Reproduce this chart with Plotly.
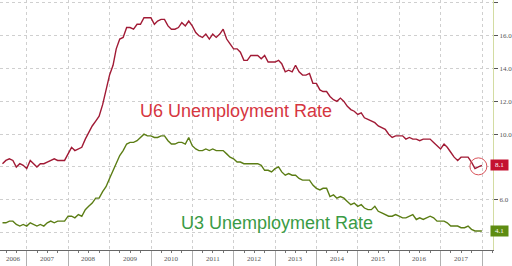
import pandas as pd
import plotly.graph_objects as go

# Monthly data, May 2006 .. Dec 2017 (month-end)
first_month = "2006-05-01"

u6_values = [
    8.2, 8.4, 8.5, 8.4, 8.0, 8.2, 8.1, 7.9,                        # 2006 May-Dec
    8.4, 8.2, 8.0, 8.2, 8.2, 8.3, 8.4, 8.5, 8.4, 8.4, 8.4, 8.8,    # 2007
    9.2, 9.0, 9.1, 9.2, 9.7, 10.1, 10.5, 10.8, 11.1, 11.8, 12.6, 13.6,  # 2008
    14.2, 15.2, 15.8, 15.9, 16.5, 16.5, 16.4, 16.7, 16.7, 17.1, 17.1, 17.1,  # 2009
    16.7, 16.9, 17.0, 17.0, 16.6, 16.4, 16.4, 16.5, 16.8, 16.6, 16.9, 16.6,  # 2010
    16.2, 16.0, 15.9, 16.1, 15.8, 16.1, 15.9, 16.1, 16.4, 15.8, 15.5, 15.2,  # 2011
    15.2, 15.0, 14.5, 14.5, 14.8, 14.8, 14.8, 14.6, 14.8, 14.4, 14.4, 14.4,  # 2012
    14.5, 14.3, 13.8, 13.9, 13.8, 14.2, 13.8, 13.6, 13.6, 13.7, 13.1, 13.1,  # 2013
    12.7, 12.6, 12.6, 12.3, 12.1, 12.0, 12.2, 12.0, 11.7, 11.5, 11.4, 11.2,  # 2014
    11.3, 11.0, 10.9, 10.8, 10.7, 10.5, 10.4, 10.3, 10.0, 9.8, 9.9, 9.9,     # 2015
    9.9, 9.7, 9.8, 9.7, 9.7, 9.6, 9.7, 9.7, 9.7, 9.5, 9.3, 9.1,              # 2016
    9.4, 9.2, 8.9, 8.6, 8.4, 8.6, 8.6, 8.6, 8.3, 7.9, 8.0, 8.1,              # 2017
]

u3_values = [
    4.6, 4.6, 4.7, 4.7, 4.5, 4.4, 4.5, 4.4,                        # 2006 May-Dec
    4.6, 4.5, 4.4, 4.5, 4.4, 4.6, 4.7, 4.6, 4.7, 4.7, 4.7, 5.0,    # 2007
    5.0, 4.9, 5.1, 5.0, 5.4, 5.6, 5.8, 6.1, 6.1, 6.5, 6.8, 7.3,    # 2008
    7.8, 8.3, 8.7, 9.0, 9.4, 9.5, 9.5, 9.6, 9.8, 10.0, 9.9, 9.9,   # 2009
    9.8, 9.8, 9.9, 9.9, 9.6, 9.4, 9.4, 9.5, 9.5, 9.4, 9.8, 9.3,    # 2010
    9.1, 9.0, 9.0, 9.1, 9.0, 9.1, 9.0, 9.0, 9.0, 8.8, 8.6, 8.5,    # 2011
    8.3, 8.3, 8.2, 8.2, 8.2, 8.2, 8.2, 8.1, 7.8, 7.8, 7.7, 7.9,    # 2012
    8.0, 7.7, 7.5, 7.6, 7.5, 7.5, 7.3, 7.2, 7.2, 7.2, 6.9, 6.7,    # 2013
    6.6, 6.7, 6.7, 6.2, 6.3, 6.1, 6.2, 6.1, 5.9, 5.7, 5.8, 5.6,    # 2014
    5.7, 5.5, 5.4, 5.4, 5.6, 5.3, 5.2, 5.1, 5.0, 5.0, 5.1, 5.0,    # 2015
    4.9, 4.9, 5.0, 5.1, 4.8, 4.9, 4.8, 4.9, 5.0, 4.9, 4.7, 4.7,    # 2016
    4.7, 4.6, 4.4, 4.4, 4.4, 4.3, 4.3, 4.4, 4.2, 4.1, 4.1, 4.1,    # 2017
]

y_ticks = [4, 6, 8, 10, 12, 14, 16, 18]
year_labels = [str(y) for y in range(2006, 2018)]
series_names = ["U6 Unemployment Rate", "U3 Unemployment Rate"]

x_range = [pd.Timestamp("2006-05-09"), pd.Timestamp("2018-04-08")]
dates = pd.date_range(first_month, periods=len(u6_values), freq="MS") + pd.offsets.MonthEnd(0)

# year boundaries (gridlines) and label positions centred on the visible part of each year
year_starts = [pd.Timestamp(f"{int(y) + 1}-01-01") for y in year_labels]
label_pos = []
for y in year_labels:
    a = max(pd.Timestamp(f"{y}-01-01"), x_range[0])
    b = min(pd.Timestamp(f"{int(y) + 1}-01-01"), x_range[1])
    label_pos.append(a + (b - a) / 2)

U6_LINE = "#a11a35"
U3_LINE = "#5b7d14"
U6_TEXT = "#d6363f"
U3_TEXT = "#3a9b45"
U6_TAG = "#c41230"
U3_TAG = "#5e8c12"

# tick labels hidden where the last-value tags sit
tag_levels = [round(u6_values[-1]), round(u3_values[-1])]
y_ticktext = ["" if v in tag_levels else f"{v:.1f}" for v in y_ticks]

fig = go.Figure()
fig.add_trace(go.Scatter(x=dates, y=u6_values, mode="lines", name=series_names[0],
                         line=dict(color=U6_LINE, width=1.4)))
fig.add_trace(go.Scatter(x=dates, y=u3_values, mode="lines", name=series_names[1],
                         line=dict(color=U3_LINE, width=1.4)))

tick_font = dict(family="Liberation Serif, DejaVu Serif, serif", size=7, color="#555555")

fig.update_layout(
    width=512, height=266, autosize=False,
    margin=dict(l=0, r=17, t=0, b=16, pad=0),
    paper_bgcolor="white", plot_bgcolor="white",
    showlegend=False,
    xaxis=dict(
        type="date",
        range=x_range,
        tickmode="array", tickvals=year_starts,
        showticklabels=False,
        ticks="outside", ticklen=16, tickcolor="#b0b0b0", tickwidth=1,
        showline=True, linecolor="#666666", linewidth=1,
        showgrid=True, gridcolor="#cfcfcf", griddash="dot", gridwidth=1,
        minor=dict(dtick="M3", tick0="2007-01-01", ticks="outside", ticklen=2,
                   tickcolor="#777777", showgrid=False),
        zeroline=False,
    ),
    yaxis=dict(
        side="right",
        range=[2.94, 18.18],
        tickmode="array", tickvals=y_ticks, ticktext=y_ticktext,
        ticks="outside", ticklen=4, tickcolor="#555555",
        showline=True, linecolor="#d3dca2", linewidth=1,
        showgrid=True, gridcolor="#cfcfcf", griddash="dot", gridwidth=1,
        tickfont=tick_font,
        zeroline=False,
    ),
)

# year labels, centred on each year's visible span
for pos, lab in zip(label_pos, year_labels):
    fig.add_annotation(text=lab, xref="x", yref="paper", x=pos, y=0,
                       xanchor="center", yanchor="top", yshift=-3, showarrow=False,
                       font=tick_font)

fig.add_annotation(text=series_names[0], xref="paper", yref="paper", x=0.479, y=0.556,
                   xanchor="center", yanchor="middle", showarrow=False,
                   font=dict(family="Liberation Sans, Arial, sans-serif", size=18, color=U6_TEXT))
fig.add_annotation(text=series_names[1], xref="paper", yref="paper", x=0.5616, y=0.108,
                   xanchor="center", yanchor="middle", showarrow=False,
                   font=dict(family="Liberation Sans, Arial, sans-serif", size=18, color=U3_TEXT))

# last-value tags on the right axis
for vals, col in [(u6_values, U6_TAG), (u3_values, U3_TAG)]:
    fig.add_annotation(text=f"{vals[-1]:.1f}", xref="paper", yref="y", x=1, y=vals[-1],
                       xanchor="left", yanchor="middle", xshift=-3, showarrow=False,
                       bgcolor=col, width=15, height=8, borderpad=1,
                       font=dict(family="Liberation Serif, DejaVu Serif, serif", size=7, color="white"))

# circle around the latest U6 reading
fig.add_shape(type="circle", xref="x", yref="y",
              xsizemode="pixel", ysizemode="pixel",
              xanchor=dates[-1], yanchor=u6_values[-1],
              x0=-12, x1=5, y0=-9.5, y1=7.5,
              line=dict(color="#d9535a", width=1))

fig.write_html("out.html", config={"displayModeBar": False},
               post_script="document.body.style.margin='0';")
